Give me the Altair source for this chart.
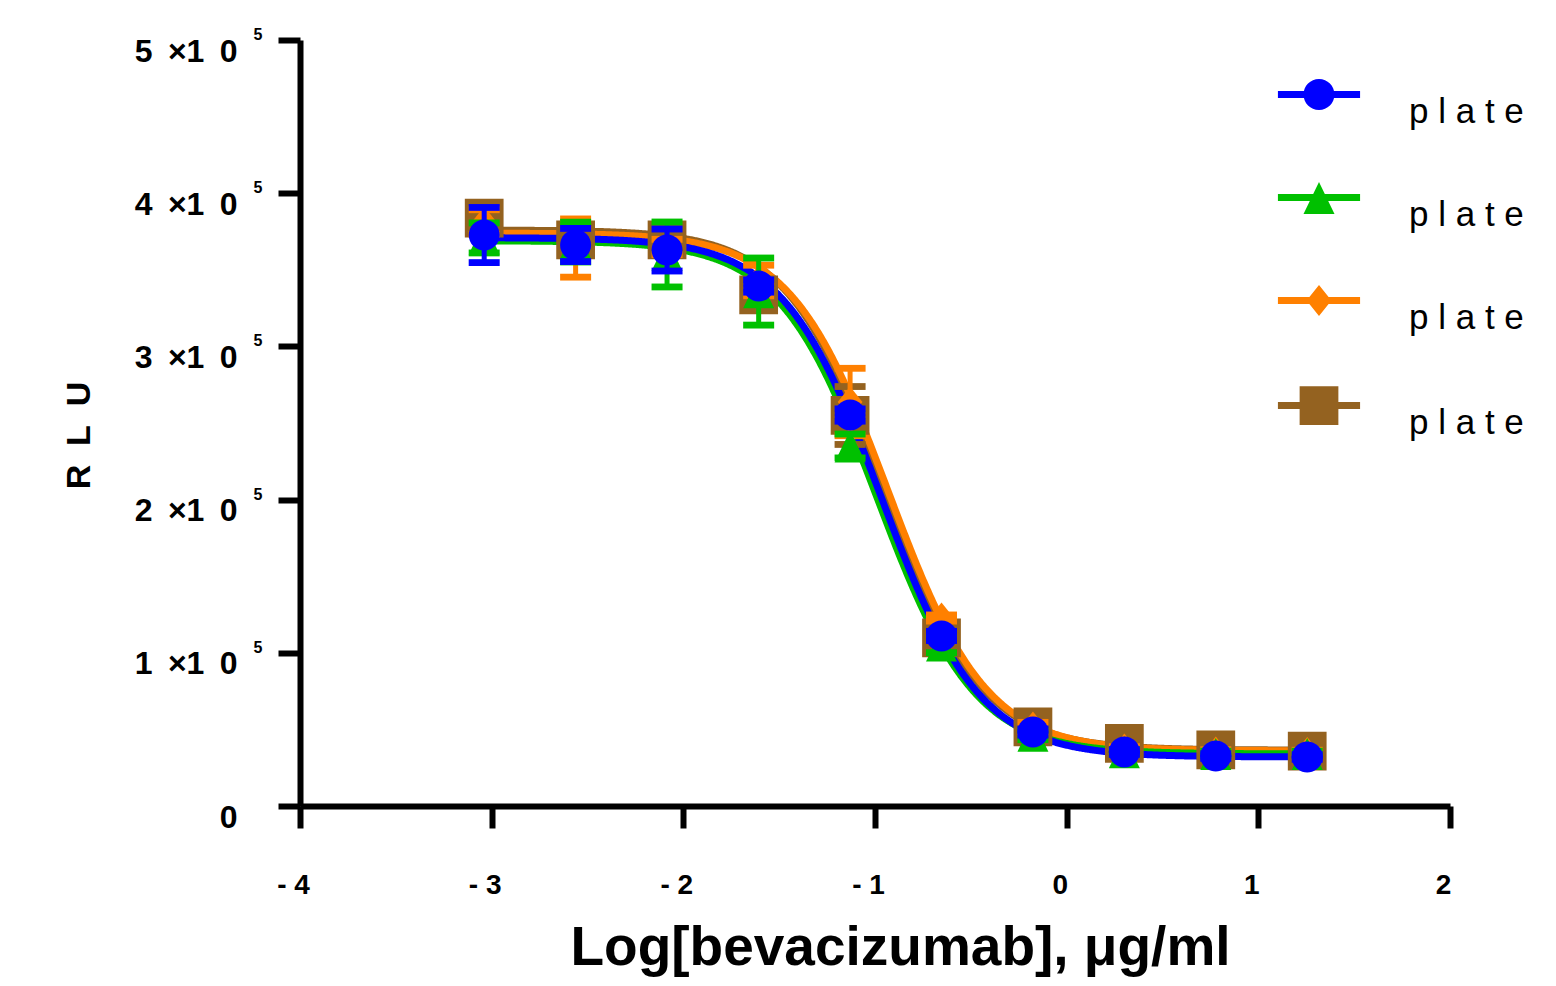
import altair as alt
import pandas as pd

# ---------------- data ----------------
log_conc = [-3.039, -2.562, -2.085, -1.607, -1.130, -0.653, -0.176, 0.301, 0.778, 1.255]
series_names = ["plate 1", "plate 2", "plate 3", "plate 4"]
colors = ["#0000FF", "#00C000", "#FF8000", "#946220"]

blue_mean = [372700, 366200, 362900, 339400, 255200, 111000, 48300, 35200, 32600, 32000]
blue_sd = [18000, 10800, 13700, 4000, 4000, 3000, 2000, 1500, 1500, 1500]
green_mean = [370800, 368100, 360000, 335800, 235000, 105100, 46300, 35400, 34300, 34300]
green_sd = [9800, 13000, 21200, 21900, 7800, 5000, 3000, 1500, 1500, 1500]
orange_mean = [381200, 364200, 364900, 343000, 263700, 122700, 51600, 37200, 35200, 34900]
orange_sd = [8000, 19000, 5000, 10000, 22000, 2000, 3000, 1500, 1500, 1500]
brown_mean = [383800, 369500, 369500, 333600, 254900, 109700, 51600, 40800, 36600, 35900]
brown_sd = [5000, 5000, 5000, 5000, 18900, 5000, 3000, 1500, 1500, 1500]

# four-parameter logistic fits (top, bottom, logEC50, hill slope)
fit_top = [371000, 369000, 374000, 376000]
fit_bottom = [32000, 34000, 36000, 36500]
fit_logec50 = [-0.967, -0.99, -0.93, -0.95]
fit_hill = [1.69, 1.70, 1.70, 1.70]

x_ticks = [-4, -3, -2, -1, 0, 1, 2]
y_ticks = [0, 100000, 200000, 300000, 400000, 500000]
y_sup_values = [100000, 200000, 300000, 400000, 500000]
y_sup_text = ["5", "5", "5", "5", "5"]
legend_label = "p l a t e"
x_title = "Log[bevacizumab], \u03bcg/ml"
y_title = "R\u00a0\u00a0L\u00a0\u00a0U"

# ---------------- shapes ----------------
P_CIRCLE = "M1,0A1,1,0,1,1,-1,0A1,1,0,1,1,1,0Z"
P_TRI = "M0,-1L1,1.07L-1,1.07Z"
P_DIA = "M0,-1L0.8,0L0,1L-0.8,0Z"
P_SQ = "M-1.25,-1.25L1.25,-1.25L1.25,1.25L-1.25,1.25Z"
P_CAP = "M-1,-0.22L1,-0.22L1,0.22L-1,0.22Z"
P_LINE = "M-2.65,-0.23L2.65,-0.23L2.65,0.23L-2.65,0.23Z"
point_shapes = [P_CIRCLE, P_TRI, P_DIA, P_SQ]
legend_shapes = [P_LINE + p for p in point_shapes]

FONT = "Liberation Sans"
SYM = 961

means = [blue_mean, green_mean, orange_mean, brown_mean]
sds = [blue_sd, green_sd, orange_sd, brown_sd]

rows = []
for name, m, s in zip(series_names, means, sds):
    for xv, mv, sv in zip(log_conc, m, s):
        rows.append({"series": name, "x": xv, "y": mv, "lo": mv - sv, "hi": mv + sv})
pts = pd.DataFrame(rows)

params = pd.DataFrame({"series": series_names, "top": fit_top, "bottom": fit_bottom,
                       "c": fit_logec50, "h": fit_hill})

xscale = alt.Scale(domain=[-4, 2], nice=False, zero=False)
yscale = alt.Scale(domain=[0, 500000], nice=False, zero=True)

xaxis = alt.Axis(
    values=x_ticks, grid=False, title=x_title,
    labelExpr="datum.value < 0 ? '- ' + abs(datum.value) : '' + datum.value",
    labelFont=FONT, labelFontSize=28, labelFontWeight="bold", labelColor="black",
    labelBaseline="alphabetic", labelPadding=65, labelOffset=-7, labelAlign="center",
    tickSize=22, tickWidth=6, tickColor="black", domainWidth=6, domainColor="black",
    titleFont=FONT, titleFontSize=55, titleFontWeight="bold", titleColor="black",
    titleX=600, titleY=158, titleBaseline="alphabetic", titleAlign="center",
)
yaxis = alt.Axis(
    values=y_ticks, grid=False, title=y_title,
    labelExpr="datum.value == 0 ? '0' : format(datum.value/100000, 'd') + ' \u2009\u00d71 \u20090'",
    labelFont=FONT, labelFontSize=32, labelFontWeight="bold", labelColor="black",
    labelBaseline="middle", labelPadding=41, labelOffset=11,
    tickSize=22, tickWidth=6, tickColor="black", domainWidth=6, domainColor="black",
    titleFont=FONT, titleFontSize=34, titleFontWeight="bold", titleColor="black",
    titleAngle=270, titleX=-221, titleY=395, titleAlign="center", titleBaseline="middle",
)


def X(field):
    return alt.X(field, type="quantitative", scale=xscale, axis=xaxis)


def Y(field):
    return alt.Y(field, type="quantitative", scale=yscale, axis=yaxis)


xmin, xmax = min(log_conc), max(log_conc)
curve_base = alt.Chart(params).transform_calculate(
    xs=f"sequence({xmin}, {xmax + 0.001}, 0.005)"
).transform_flatten(["xs"]).transform_calculate(
    yv="datum.bottom + (datum.top - datum.bottom) / (1 + pow(10, (datum.xs - datum.c) * datum.h))"
)

draw_order = [3, 2, 1, 0]  # brown, orange, green, blue (blue on top)
layers = []
for i in draw_order:
    layers.append(
        curve_base.transform_filter(alt.datum.series == series_names[i])
        .mark_line(color=colors[i], strokeWidth=7, clip=False)
        .encode(x=X("xs"), y=Y("yv"), order="xs:Q")
    )

pbase = alt.Chart(pts)
for i in draw_order:
    sub = pbase.transform_filter(alt.datum.series == series_names[i])
    layers.append(sub.mark_rule(color=colors[i], strokeWidth=5).encode(
        x=X("x"), y=Y("lo"), y2="hi:Q"))
    layers.append(sub.mark_point(filled=True, opacity=1, color=colors[i], shape=P_CAP,
                                 size=SYM, strokeWidth=0).encode(x=X("x"), y=Y("lo")))
    layers.append(sub.mark_point(filled=True, opacity=1, color=colors[i], shape=P_CAP,
                                 size=SYM, strokeWidth=0).encode(x=X("x"), y=Y("hi")))
    layers.append(sub.mark_point(filled=True, opacity=1, color=colors[i],
                                 shape=point_shapes[i], size=SYM, strokeWidth=0).encode(
        x=X("x"), y=Y("y")))

legend = alt.Legend(
    orient="none", legendX=1001.5, legendY=37, title=None, padding=0,
    symbolSize=SYM, symbolStrokeWidth=0, symbolOpacity=1,
    labelFont=FONT, labelFontSize=35, labelColor="black", labelBaseline="top",
    labelOffset=72.5, rowPadding=50, labelExpr=f"'{legend_label}'",
)
layers.append(
    pbase.mark_point(filled=True, size=SYM).encode(
        x=X("x"), y=Y("y"),
        color=alt.Color("series:N", scale=alt.Scale(domain=series_names, range=colors), legend=legend),
        shape=alt.Shape("series:N", scale=alt.Scale(domain=series_names, range=legend_shapes), legend=legend),
        opacity=alt.value(0),
    )
)

sup = pd.DataFrame({"v": y_sup_values, "t": y_sup_text})
layers.append(
    alt.Chart(sup).mark_text(font=FONT, fontSize=16, fontWeight="bold", color="black",
                             align="center", baseline="middle", dy=-5).encode(
        x=alt.value(-42), y=Y("v"), text="t:N")
)

chart = alt.layer(*layers).properties(
    width=1150, height=766,
    padding={"left": 292, "top": 32, "right": 90, "bottom": 172},
    autosize="none", background="white",
).configure_view(strokeWidth=0, stroke="transparent")

chart.save("out.html", embed_options={"renderer": "svg", "actions": False})
